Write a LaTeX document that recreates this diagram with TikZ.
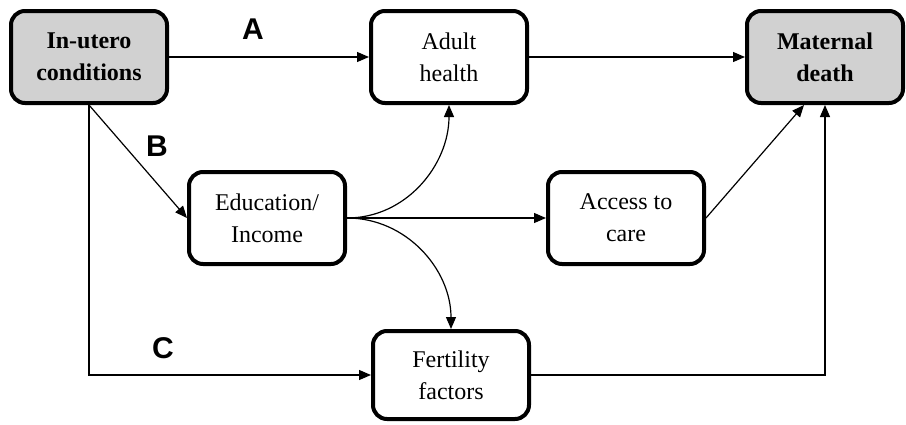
\documentclass[tikz,border=0pt]{standalone}
\usepackage{fontspec}
\setmainfont{Liberation Serif}
\newfontfamily\labelfont{Liberation Sans}
\usetikzlibrary{arrows.meta}

\tikzset{
	box/.style = {draw, line width = 2pt, rounded corners = 7pt, align = center,
		minimum width = 78pt, minimum height = 46pt, inner sep = 0pt,
		font = \fontsize{12}{16}\selectfont},
	keybox/.style = {box, fill = black!18, font = \fontsize{12}{16}\selectfont\bfseries},
	arr/.style = {-{Triangle[length = 6pt, width = 5pt]}, line width = 0.6pt},
	pathlabel/.style = {font = \labelfont\fontsize{15}{18}\selectfont\bfseries}
}

\begin{document}
\begin{tikzpicture}[x = 0.5pt, y = -0.5pt]
		\useasboundingbox (0,0) rectangle (906,424);
	
		% boxes
		\node[keybox] (utero) at (89,57) {In-utero\\conditions};
		\node[box] (adult) at (449,57) {Adult\\health};
		\node[keybox] (death) at (825,57) {Maternal\\death};
		\node[box] (edu) at (267,218) {Education/\\Income};
		\node[box] (access) at (626,218) {Access to\\care};
		\node[box, minimum height = 44pt] (fert) at (451,375) {Fertility\\factors};
	
		% pathways
		\node[pathlabel] (pathA) at (253,29) {A};
		\node[pathlabel] (pathB) at (157,146) {B};
		\node[pathlabel] (pathC) at (163,348) {C};
	
		\begin{scope}[arr]
			\draw (utero) -- (adult);
			\draw (adult) -- (death);
			\draw (utero.south) -- (edu.west);
			\draw (utero.south) |- (fert.west);
			\draw (edu.east) to [out = 0, in = -90] (adult.south);
			\draw (edu.east) -- (access.west);
			\draw (edu.east) to [out = 0, in = 90] (fert.north);
			\draw (access.east) -- ([xshift = -10.5pt]death.south);
			\draw (fert.east) -| (death.south);
		\end{scope}
	\end{tikzpicture}
\end{document}
